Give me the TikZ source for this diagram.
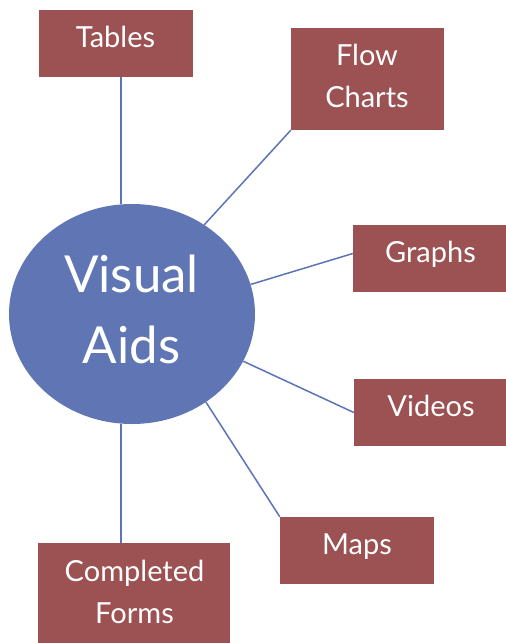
\documentclass[tikz,border=0pt]{standalone}
\usepackage{fontspec}
\setmainfont{Lato}
\usetikzlibrary{shapes.geometric}
\definecolor{boxred}{HTML}{9C5153}
\definecolor{ellblue}{HTML}{6076B4}
\definecolor{linkblue}{HTML}{5B74B8}
\begin{document}
\begin{tikzpicture}[x=1pt,y=-1pt,
  box/.style={fill=boxred, draw=none, inner sep=0pt},
  lbl/.style={text=white, font=\fontsize{29}{42}\selectfont, align=center, inner sep=0pt, anchor=base},
  biglbl/.style={text=white, font=\fontsize{51}{71}\selectfont, align=center, inner sep=0pt, anchor=base},
  link/.style={draw=linkblue, line width=1.5pt}]
\useasboundingbox (0,0) rectangle (506,643);
% central ellipse
\node[ellipse, fill=ellblue, draw=none, minimum width=246pt, minimum height=220pt, inner sep=0pt] (va) at (132,314) {};
\node[biglbl] (vatext) at (131.5,363) {Visual\\Aids};
% boxes
\node[box, minimum width=154pt, minimum height=67pt] (tables) at (116,43.5) {};
\node[box, minimum width=153pt, minimum height=102pt] (flow) at (367.5,79) {};
\node[box, minimum width=153pt, minimum height=67pt] (graphs) at (429.5,258.5) {};
\node[box, minimum width=152pt, minimum height=67pt] (videos) at (430,412.5) {};
\node[box, minimum width=154pt, minimum height=67pt] (maps) at (357,550.5) {};
\node[box, minimum width=192pt, minimum height=100pt] (forms) at (134,593) {};
% labels
\node[lbl] (tablestext) at (115.5,47) {Tables};
\node[lbl] (flowtext) at (367,107) {Flow\\Charts};
\node[lbl] (graphstext) at (430.5,262) {Graphs};
\node[lbl] (videostext) at (431,416.5) {Videos};
\node[lbl] (mapstext) at (357,554) {Maps};
\node[lbl] (formstext) at (134.5,623) {Completed\\Forms};
% connectors
\draw[link] ([xshift=5pt]tables.south) -- ([xshift=5pt]tables.south |- va.north);
\draw[link] (flow.south west) -- (va.51);
\draw[link] ([yshift=5pt]graphs.west) -- (va.14);
\draw[link] (videos.west) -- (va.-23);
\draw[link] (maps.north west) -- (va.-50);
\draw[link] ([xshift=-13pt]forms.north) -- ([xshift=-13pt]forms.north |- va.south);
\end{tikzpicture}
\end{document}
